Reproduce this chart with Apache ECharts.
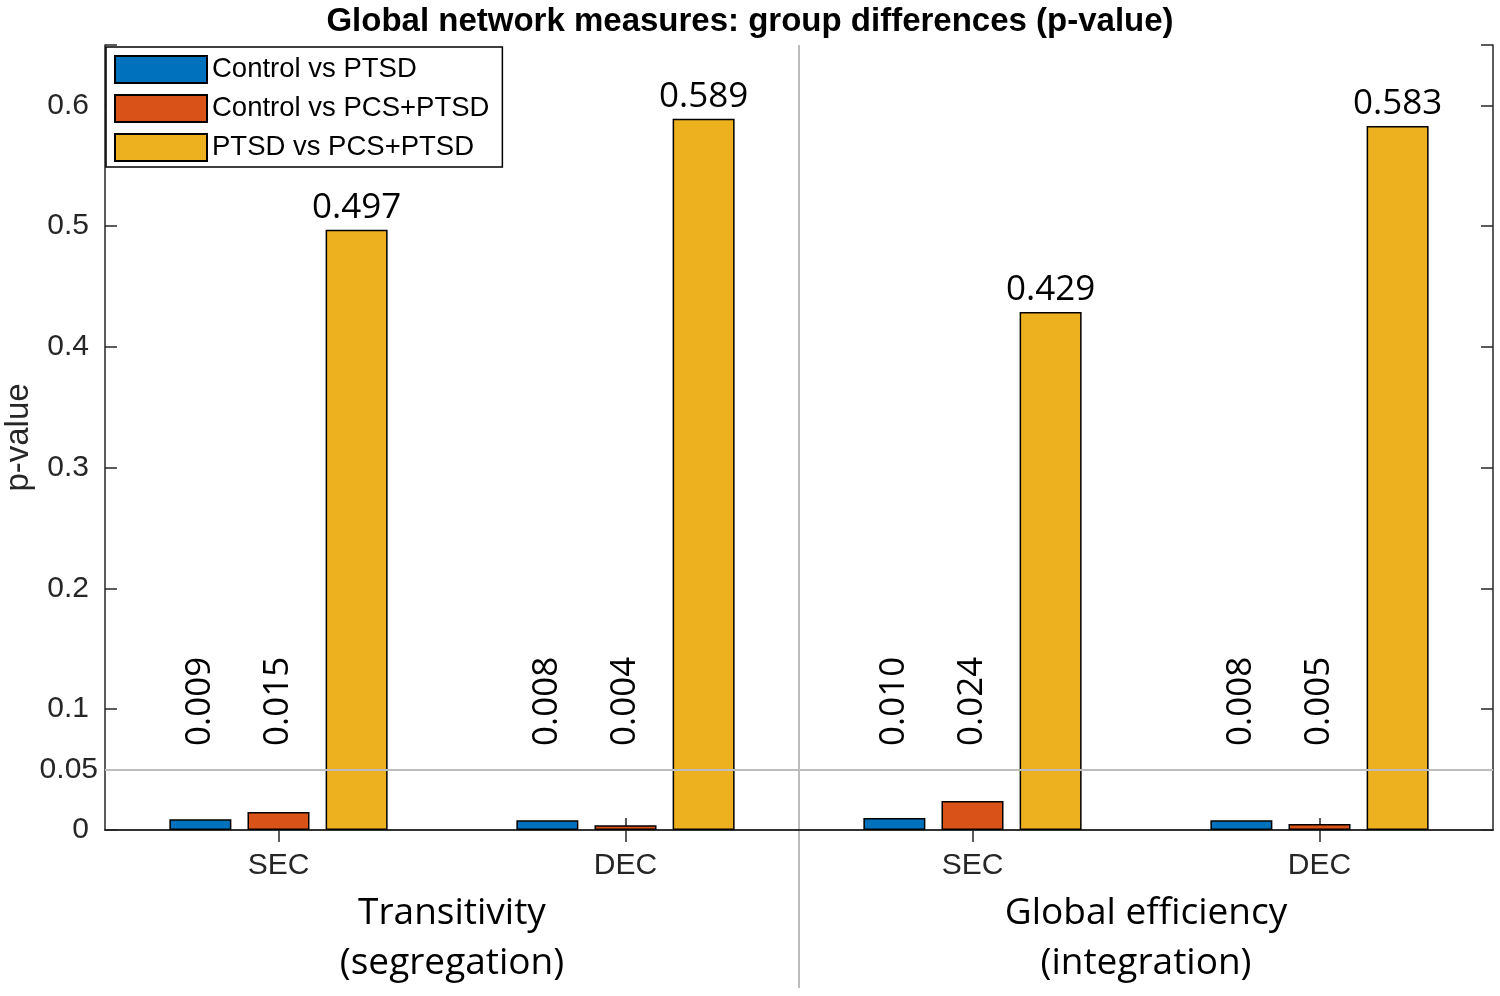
<!DOCTYPE html>
<html>
<head>
<meta charset="UTF-8" />
<title>Global network measures</title>
<script src="https://cdn.jsdelivr.net/npm/echarts@6/dist/echarts.min.js"></script>
<style>
  html, body { margin: 0; padding: 0; background: #fff; }
  #chart { width: 1500px; height: 996px; }
</style>
</head>
<body>
<div id="chart"></div>
<script>
// categories and values
var categories = ['SEC', 'DEC', 'SEC', 'DEC'];
var groupNames = ['Transitivity\n(segregation)', 'Global efficiency\n(integration)'];
var seriesNames = ['Control vs PTSD', 'Control vs PCS+PTSD', 'PTSD vs PCS+PTSD'];
var controlVsPtsd = [0.009, 0.008, 0.010, 0.008];
var controlVsPcsPtsd = [0.015, 0.004, 0.024, 0.005];
var ptsdVsPcsPtsd = [0.497, 0.589, 0.429, 0.583];
var yTickLabels = [0, 0.1, 0.2, 0.3, 0.4, 0.5, 0.6];
var threshold = 0.05;

var colors = ['#0072BD', '#D95319', '#EDB120'];
var axisFont = 'Liberation Sans, Arial, sans-serif';
var numFont = 'Open Sans, sans-serif';

var myChart = echarts.init(document.getElementById('chart'));

function fmt3(p) { return p.value.toFixed(3); }

// small values: vertical text at a fixed height above the baseline
var smallLabel = {
    show: true,
    position: 'insideBottom',
    distance: 84,
    rotate: 90,
    align: 'left',
    verticalAlign: 'middle',
    formatter: fmt3,
    fontFamily: numFont,
    fontSize: 35,
    color: '#000'
};

function barSeries(name, data, idx, label, z) {
    return {
        name: name,
        type: 'bar',
        data: data,
        barWidth: 62,
        barGap: '26%',
        z: z,
        itemStyle: { color: colors[idx], borderColor: '#000', borderWidth: 1.5 },
        label: label,
        emphasis: { disabled: true }
    };
}

var s1 = barSeries(seriesNames[0], controlVsPtsd, 0, smallLabel, 1);
s1.markLine = {
    silent: true,
    symbol: 'none',
    animation: false,
    lineStyle: { color: '#BDBDBD', width: 2, type: 'solid' },
    label: {
        show: true,
        position: 'start',
        distance: 7,
        formatter: String(threshold),
        fontFamily: axisFont,
        fontSize: 30,
        color: '#262626'
    },
    data: [{ yAxis: threshold }]
};
var s2 = barSeries(seriesNames[1], controlVsPcsPtsd, 1, smallLabel, 2);
var s3 = barSeries(seriesNames[2], ptsdVsPcsPtsd, 2, {
    show: true,
    position: 'top',
    distance: 4,
    formatter: fmt3,
    fontFamily: numFont,
    fontSize: 35,
    color: '#000'
}, 2);

function yLabel(v) {
    for (var i = 0; i < yTickLabels.length; i++) {
        if (Math.abs(yTickLabels[i] - v) < 1e-9) return String(yTickLabels[i]);
    }
    return '';
}

var option = {
    animation: false,
    backgroundColor: '#fff',
    title: {
        text: 'Global network measures: group differences (p-value)',
        left: 'center',
        top: 0,
        textStyle: { fontFamily: axisFont, fontWeight: 'bold', fontSize: 33, color: '#000' }
    },
    legend: {
        data: seriesNames,
        orient: 'vertical',
        left: 106,
        top: 47,
        padding: [8, 13, 5, 8],
        itemWidth: 92,
        itemHeight: 27,
        itemGap: 10,
        icon: 'rect',
        backgroundColor: '#fff',
        borderColor: '#000',
        borderWidth: 1.5,
        borderRadius: 0,
        textStyle: { fontFamily: axisFont, fontSize: 27.5, lineHeight: 27, color: '#000' },
        selectedMode: false
    },
    grid: { left: 105, right: 7, top: 45, bottom: 166, containLabel: false, outerBoundsMode: 'none' },
    xAxis: [{
        type: 'category',
        data: categories,
        position: 'bottom',
        axisLine: { lineStyle: { color: '#262626', width: 1.5 } },
        axisTick: { show: true, inside: true, alignWithLabel: true, length: 12, lineStyle: { color: '#262626', width: 1.5 } },
        axisLabel: { fontFamily: axisFont, fontSize: 30, color: '#262626', margin: 21 }
    }, {
        type: 'category',
        data: categories,
        position: 'top',
        axisLine: { lineStyle: { color: '#262626', width: 1.5 } },
        axisTick: { show: true, inside: true, alignWithLabel: true, length: 12, lineStyle: { color: '#262626', width: 1.5 } },
        axisLabel: { show: false }
    }, {
        type: 'category',
        data: groupNames,
        position: 'bottom',
        axisLine: { show: false },
        axisTick: { show: false },
        axisLabel: { fontFamily: numFont, fontSize: 37, lineHeight: 50, color: '#000', margin: 58 }
    }],
    yAxis: [{
        type: 'value',
        min: 0,
        max: 0.65,
        interval: 0.1,
        name: 'p-value',
        nameLocation: 'middle',
        nameGap: 70,
        nameTextStyle: { fontFamily: axisFont, fontSize: 33, color: '#262626' },
        axisLine: { show: true, lineStyle: { color: '#262626', width: 1.5 } },
        axisTick: { show: true, inside: true, length: 12, lineStyle: { color: '#262626', width: 1.5 } },
        axisLabel: { formatter: yLabel, fontFamily: axisFont, fontSize: 30, color: '#262626', margin: 16 },
        splitLine: { show: false }
    }, {
        type: 'value',
        min: 0,
        max: 0.65,
        interval: 0.1,
        position: 'right',
        axisLine: { show: true, lineStyle: { color: '#262626', width: 1.5 } },
        axisTick: { show: true, inside: true, length: 12, lineStyle: { color: '#262626', width: 1.5 } },
        axisLabel: { show: false },
        splitLine: { show: false }
    }],
    series: [s1, s2, s3]
};

myChart.setOption(option);

// vertical separator between the two measure groups, from the plot top down past the labels
var xa = myChart.convertToPixel({ xAxisIndex: 0 }, 1);
var xb = myChart.convertToPixel({ xAxisIndex: 0 }, 2);
var xMid = (xa + xb) / 2;
var yTop = myChart.convertToPixel({ yAxisIndex: 0 }, 0.65);
myChart.setOption({
    graphic: [{
        type: 'line',
        z: 0,
        silent: true,
        shape: { x1: xMid, y1: yTop, x2: xMid, y2: 988 },
        style: { stroke: '#BDBDBD', lineWidth: 2 }
    }]
});
</script>
</body>
</html>
